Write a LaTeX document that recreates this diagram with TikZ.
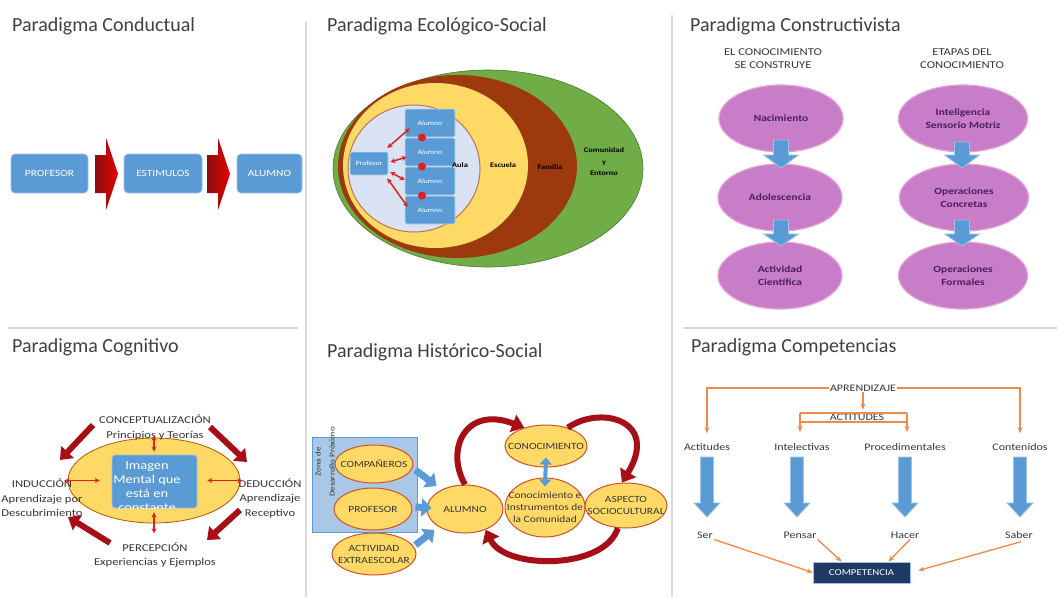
\documentclass[tikz,border=0pt]{standalone}
\usepackage{fontspec}
\setmainfont{Carlito}
\newfontfamily\smf[FakeStretch=1.2]{Carlito}
\usetikzlibrary{arrows.meta,shapes.geometric}
\definecolor{ttlc}{HTML}{404040}
\definecolor{offblue}{HTML}{5B9BD5}
\definecolor{offbluel}{HTML}{9DC3E6}
\definecolor{divg}{HTML}{D9D9D9}
\definecolor{grn}{HTML}{70AD47}
\definecolor{brn}{HTML}{9C3A0E}
\definecolor{ylw}{HTML}{FFD966}
\definecolor{lblue}{HTML}{DAE3F3}
\definecolor{purp}{HTML}{C77DC8}
\definecolor{purpb}{HTML}{E8A2D4}
\definecolor{purpt}{HTML}{4A1F5C}
\definecolor{dred}{HTML}{A50F15}
\definecolor{rred}{HTML}{E0201C}
\definecolor{navy}{HTML}{1F3864}
\definecolor{orng}{HTML}{EE8A4A}
\definecolor{zblue}{HTML}{A9C8E8}
\definecolor{txtc}{HTML}{363636}
\definecolor{hborder}{HTML}{D0522A}
% block arrow pointing down: x, ytop, yneck, ytip, half body, half head, style
\newcommand\blkdn[7]{\path[#7] (#1-#5,#2) -- (#1+#5,#2) -- (#1+#5,#3) -- (#1+#6,#3) -- (#1,#4) -- (#1-#6,#3) -- (#1-#5,#3) -- cycle;}
% block arrow pointing right: xleft, xneck, xtip, yc, half body, half head, style
\newcommand\blkrt[7]{\path[#7] (#1,#4-#5) -- (#2,#4-#5) -- (#2,#4-#6) -- (#3,#4) -- (#2,#4+#6) -- (#2,#4+#5) -- (#1,#4+#5) -- cycle;}
\begin{document}
\begin{tikzpicture}[x=1pt,y=-1pt,
  ttl/.style={font=\fontsize{20}{24}\selectfont, text=ttlc, anchor=base west, inner sep=0},
  cbox/.style={fill=offblue, draw=offbluel, line width=0.6, rounded corners=4, text=white, font=\smf\fontsize{9.5}{11}\selectfont, inner sep=0},
  ebox/.style={fill=offblue, draw=white!60!offblue, line width=0.6, rounded corners=2, text=white, font=\smf\fontsize{6.5}{7}\selectfont, inner sep=0, minimum width=50, minimum height=28},
  elab/.style={font=\smf\bfseries\fontsize{7}{11.5}\selectfont, text=black, align=center, inner sep=0},
  hdr/.style={font=\smf\fontsize{10.5}{13}\selectfont, text=txtc, align=center, inner sep=0},
  pell/.style={ellipse, fill=purp, draw=purpb, line width=1.2, minimum width=124, minimum height=67, inner sep=0},
  ptxt/.style={font=\smf\bfseries\fontsize{9.5}{13}\selectfont, text=purpt, align=center, inner sep=0},
  bblk/.style={fill=offblue, draw=offbluel, line width=0.8},
  rblk/.style={shade, left color=dred!85!black, right color=red!90!black},
  rarr/.style={draw=rred, line width=1.5, {Stealth[length=5,width=5]}-{Stealth[length=5,width=5]}},
  bra/.style={draw=dred, line width=6, -{Triangle[length=11,width=17]}},
  lab/.style={font=\smf\fontsize{10.5}{14.5}\selectfont, text=txtc, align=center, inner sep=0},
  hell/.style={ellipse, fill=ylw, draw=hborder, line width=1, inner sep=0},
  htxt/.style={font=\smf\fontsize{9.5}{12}\selectfont, text=txtc, align=center, inner sep=0},
  barr/.style={draw=offblue, line width=7, -{Triangle[length=10,width=18]}},
  barr2/.style={draw=offblue, line width=4, {Triangle[length=7,width=12]}-{Triangle[length=7,width=12]}},
  crv/.style={draw=dred, line width=6, -{Triangle[length=12,width=18]}},
  clab/.style={font=\smf\fontsize{10}{12}\selectfont, text=txtc, inner sep=1},
  oline/.style={draw=orng, line width=1.3},
  oarr/.style={draw=orng, line width=1.3, -{Stealth[length=6,width=5]}}
]
\useasboundingbox (0,0) rectangle (1057,597);
\fill[white] (0,0) rectangle (1057,597);
% dividers
\draw[divg, line width=1.2] (306,22) -- (306,597);
\draw[divg, line width=1.2] (672,15) -- (672,597);
\draw[divg, line width=1.2] (8,328) -- (298,328);
\draw[divg, line width=1.2] (683,328) -- (1057,328);
% titles
\node[ttl] (t1) at (12,31) {Paradigma Conductual};
\node[ttl] (t2) at (327,31) {Paradigma Ecológico-Social};
\node[ttl] (t3) at (690,31) {Paradigma Constructivista};
\node[ttl] (t4) at (12,352) {Paradigma Cognitivo};
\node[ttl] (t5) at (327,357) {Paradigma Histórico-Social};
\node[ttl] (t6) at (691,352) {Paradigma Competencias};

% ===== Conductual =====
\node[cbox, minimum width=77, minimum height=39] (cp) at (49.5,173.5) {PROFESOR};
\node[cbox, minimum width=78, minimum height=39] (ce) at (163,173.5) {ESTIMULOS};
\node[cbox, minimum width=65, minimum height=39] (ca) at (269.5,173.5) {ALUMNO};
\blkrt{95}{106}{118}{174}{19}{36}{rblk}
\blkrt{207}{218}{230}{174}{19}{36}{rblk}

% ===== Ecologico =====
\filldraw[fill=grn, draw=grn!70!black, line width=0.6] (488,168.5) ellipse [x radius=155, y radius=98.5];
\fill[brn] (457.5,166.5) ellipse [x radius=119.5, y radius=91.5];
\fill[ylw] (435.5,165.5) ellipse [x radius=92.5, y radius=82.5];
\filldraw[fill=lblue, draw=brn!70!white, line width=1] (414,168.5) ellipse [x radius=66, y radius=63.5];
\node[ebox] (a1) at (430,123) {Alumno};
\node[ebox] (a2) at (430,152) {Alumno};
\node[ebox] (a3) at (430,181) {Alumno};
\node[ebox] (a4) at (430,210) {Alumno};
\node[ebox, minimum width=38, minimum height=23] (pr) at (369,163.5) {Profesor};
\fill[rred] (422,137.5) circle (4);
\fill[rred] (422,166.5) circle (4);
\fill[rred] (422,195.5) circle (4);
\draw[rarr] ([shift={(-1,-15.5)}]pr.east) -- ([shift={(5,-9)}]a1.south west);
\draw[rarr] ([shift={(2,-1.5)}]pr.east) -- ([shift={(2,5)}]a2.west);
\draw[rarr] ([shift={(2,8.5)}]pr.east) -- ([shift={(0,-1)}]a3.west);
\draw[rarr] ([shift={(-1,3)}]pr.south east) -- ([shift={(3,-3)}]a4.west);
\node[elab] (la) at (460,165) {Aula};
\node[elab] (le) at (503,165) {Escuela};
\node[elab] (lf) at (550,167) {Familia};
\node[elab] (lc) at (604,162) {Comunidad\\y\\Entorno};

% ===== Constructivista =====
\node[hdr] (h1) at (773,58.5) {EL CONOCIMIENTO\\SE CONSTRUYE};
\node[hdr] (h2) at (962,58.5) {ETAPAS DEL\\CONOCIMIENTO};
\node[pell] (n1) at (781,118.5) {};
\node[pell] (n2) at (780,197.5) {};
\node[pell] (n3) at (780,275.5) {};
\node[pell, minimum width=129] (m1) at (963,118.5) {};
\node[pell, minimum width=129] (m2) at (964,197.5) {};
\node[pell, minimum width=129] (m3) at (963,275.5) {};
\node[ptxt] (n1t) at (n1) {Nacimiento};
\node[ptxt] (n2t) at (n2) {Adolescencia};
\node[ptxt] (n3t) at (n3) {Actividad\\Científica};
\node[ptxt] (m1t) at (m1) {Inteligencia\\Sensorio Motriz};
\node[ptxt] (m2t) at (m2) {Operaciones\\Concretas};
\node[ptxt] (m3t) at (m3) {Operaciones\\Formales};
\blkdn{781}{140}{155}{168}{7.5}{17.5}{bblk}
\blkdn{781}{220}{234}{246}{7.5}{17.5}{bblk}
\blkdn{962}{142}{155}{168}{7.5}{17.5}{bblk}
\blkdn{962}{220}{234}{246}{7.5}{17.5}{bblk}

% ===== Cognitivo =====
\node[ellipse, fill=ylw, draw=orange!70!black, line width=0.8, minimum width=172, minimum height=85, inner sep=0] (cg) at (154,480.5) {};
\node[rounded corners=3, fill=offblue, draw=offbluel, line width=0.8, minimum width=85, minimum height=53, inner sep=0] (im) at (154.5,481.5) {};
\begin{scope}
\clip[rounded corners=3] (112,455) rectangle (197,508);
\node[font=\smf\fontsize{12}{14}\selectfont, text=white, align=center, inner sep=0] (imt) at (147,487) {Imagen\\Mental que\\está en\\constante};
\end{scope}
\node[lab] (lcon) at (155,427.5) {CONCEPTUALIZACIÓN\\Principios y Teorías};
\node[lab] (lind) at (42,498) {INDUCCIÓN\\Aprendizaje por\\Descubrimiento};
\node[lab] (lded) at (270,498) {DEDUCCIÓN\\Aprendizaje\\Receptivo};
\node[lab] (lper) at (155,555) {PERCEPCIÓN\\Experiencias y Ejemplos};
\draw[rarr] ([shift={(0,-2)}]cg.north) -- ([shift={(-0.5,-3)}]im.north);
\draw[rarr] ([shift={(-0.5,4)}]im.south) -- ([shift={(0,10)}]cg.south);
\draw[rarr] ([shift={(-3,0)}]cg.west) -- ([shift={(-12,-1)}]im.west);
\draw[rarr] ([shift={(10,-1)}]im.east) -- ([shift={(2,0)}]cg.east);
\coordinate (tlA) at (93,425); \coordinate (tlB) at (60,460);
\coordinate (trA) at (210,427); \coordinate (trB) at (247,462);
\coordinate (brA) at (240,510); \coordinate (brB) at (207,540);
\coordinate (blA) at (110,543); \coordinate (blB) at (68,517);
\draw[bra] (tlA) -- (tlB);
\draw[bra] (trA) -- (trB);
\draw[bra] (brA) -- (brB);
\draw[bra] (blA) -- (blB);

% ===== Historico-Social =====
\node[draw=offblue, fill=zblue, line width=0.8, minimum width=105, minimum height=95, inner sep=0] (zdp) at (364.5,484.5) {};
\node[rotate=90, font=\smf\fontsize{7.5}{14}\selectfont, text=txtc, align=center, inner sep=0] (zdpt) at (325,462) {Zona de\\Desarrollo Próximo};
\node[hell, minimum width=78, minimum height=38] (hc) at (374,464) {};
\node[hell, minimum width=78, minimum height=42] (hp) at (373,509) {};
\node[hell, minimum width=84, minimum height=42] (ha) at (374,554) {};
\node[hell, minimum width=76, minimum height=48] (hal) at (465,509) {};
\node[hell, minimum width=82, minimum height=42] (hk) at (546,446) {};
\node[hell, minimum width=80, minimum height=59] (hi) at (545,507.5) {};
\node[hell, minimum width=82, minimum height=45] (hs) at (626,505.5) {};
\node[htxt] (hct) at (hc) {COMPAÑEROS};
\node[htxt] (hpt) at (hp) {PROFESOR};
\node[htxt] (hat) at (ha) {ACTIVIDAD\\EXTRAESCOLAR};
\node[htxt] (halt) at (hal) {ALUMNO};
\node[htxt] (hkt) at (hk) {CONOCIMIENTO};
\node[htxt] (hit) at (hi) {Conocimiento e\\Instrumentos de\\la Comunidad};
\node[htxt] (hst) at (hs) {ASPECTO\\SOCIOCULTURAL};
\draw[barr] ([shift={(-2,-14.5)}]zdp.east) -- ([shift={(10,-23)}]hal.west);
\draw[barr] ([shift={(-2,22.5)}]zdp.east) -- ([shift={(5,-1)}]hal.west);
\draw[barr] ([shift={(-2,60.5)}]zdp.east) -- ([shift={(8,21)}]hal.west);
\draw[barr2] ([shift={(0,-10)}]hk.south) -- ([shift={(0,9)}]hi.north);
\draw[crv] (hal.north) .. controls (445,450) and (465,405) .. (hk.140);
\draw[crv] (hk.40) .. controls (600,405) and (660,420) .. (hs.100);
\draw[crv] (hs.250) .. controls (605,570) and (505,570) .. (hal.315);

% ===== Competencias =====
\node[clab] (ap) at (863,388) {APRENDIZAJE};
\node[clab] (acts) at (857,417) {ACTITUDES};
\node[clab] (act) at (707,447) {Actitudes};
\node[clab] (int) at (802,447) {Intelectivas};
\node[clab] (proc) at (905,447) {Procedimentales};
\node[clab] (cont) at (1020,447) {Contenidos};
\draw[oarr] (ap.west) -| ([shift={(0,-9)}]act.north);
\draw[oarr] (ap.east) -| ([shift={(0,-9)}]cont.north);
\draw[oarr] (ap.south) -- ([shift={(0,-3)}]ap.south |- acts.north);
\coordinate (bl) at (800,413); \coordinate (br) at (907,413);
\coordinate (bl2) at (800,422); \coordinate (br2) at (907,422);
\coordinate (blt) at (800,432); \coordinate (brt) at (907,432);
\draw[oline] (bl) -- (br);
\draw[oline] (bl2) -- (br2);
\draw[oarr] (bl) -- (blt);
\draw[oarr] (br) -- (brt);
\blkdn{707}{457}{503}{517}{6.5}{13}{bblk}
\blkdn{797}{457}{503}{517}{6.5}{13}{bblk}
\blkdn{905}{457}{503}{517}{6.5}{13}{bblk}
\blkdn{1020}{457}{503}{517}{6.5}{13}{bblk}
\node[clab] (ser) at (705,535) {Ser};
\node[clab] (pen) at (800,535) {Pensar};
\node[clab] (hac) at (905,535) {Hacer};
\node[clab] (sab) at (1019,535) {Saber};
\node[fill=navy, draw=offbluel, line width=0.8, minimum width=97, minimum height=21, text=white, font=\smf\fontsize{9}{11}\selectfont, inner sep=0] (comp) at (861.5,572.5) {COMPETENCIA};
\draw[oarr] (ser.south east) -- (comp.west);
\draw[oarr] (pen.south east) -- ([shift={(29,0)}]comp.north west);
\draw[oarr] ([shift={(5,0)}]hac.south) -- ([shift={(-22,0)}]comp.north east);
\draw[oarr] ([shift={(2,2)}]sab.south) -- ([shift={(8,-2)}]comp.east);
\end{tikzpicture}
\end{document}
